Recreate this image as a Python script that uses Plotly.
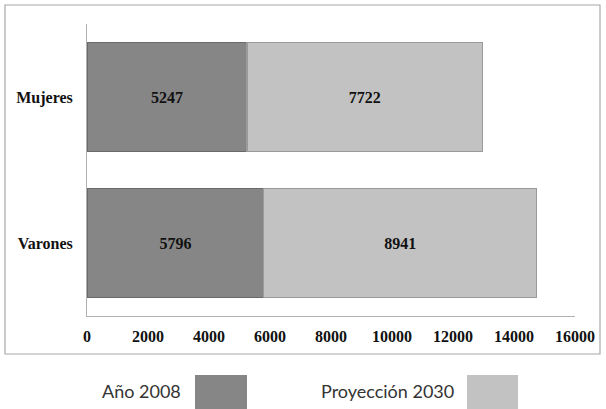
import plotly.graph_objects as go

# Población por sexo: valor 2008 y proyección 2030
categorias = ["Mujeres", "Varones"]
anio_2008 = [5247, 5796]
proyeccion_2030 = [7722, 8941]
ticks_x = [0, 2000, 4000, 6000, 8000, 10000, 12000, 14000, 16000]

serie_nombres = ["Año 2008", "Proyección 2030"]
colores = ["#868686", "#c2c2c2"]
bordes = ["#6a6a6a", "#9a9a9a"]

W, H = 606, 409
L, R, T, B = 87, 31, 24, 93
pw, ph = W - L - R, H - T - B

def px_x(p):
    return (p - L) / pw

def px_y(p):
    return 1 - (p - T) / ph

serif = dict(family="Liberation Serif", size=16, color="#111111")

fig = go.Figure()
for vals, nombre, col, brd in zip([anio_2008, proyeccion_2030], serie_nombres, colores, bordes):
    fig.add_trace(go.Bar(
        y=categorias, x=vals, orientation="h", name=nombre,
        marker=dict(color=col, line=dict(color=brd, width=1.2)),
        texttemplate="<b>%{x}</b>", textposition="inside",
        insidetextanchor="middle", textfont=serif,
        showlegend=False,
    ))

shapes = [
    # marco exterior del gráfico
    dict(type="rect", xref="paper", yref="paper",
         x0=px_x(5), x1=px_x(600), y0=px_y(354), y1=px_y(5),
         line=dict(color="#a8a8a8", width=1.2), fillcolor="rgba(0,0,0,0)", layer="below"),
]
annotations = []

# leyenda dibujada bajo el marco
leyenda = [("Año 2008", 183, 195, 247), ("Proyección 2030", 456, 467, 518)]
for (txt, tx_end, sq0, sq1), col in zip(leyenda, colores):
    shapes.append(dict(type="rect", xref="paper", yref="paper",
                       x0=px_x(sq0), x1=px_x(sq1), y0=px_y(409), y1=px_y(375),
                       line=dict(width=0), fillcolor=col))
    annotations.append(dict(text=txt, xref="paper", yref="paper",
                            x=px_x(tx_end), y=px_y(391), xanchor="right", yanchor="middle",
                            showarrow=False,
                            font=dict(family="Lato", size=18, color="#333333")))

fig.update_layout(
    width=W, height=H,
    margin=dict(l=L, r=R, t=T, b=B),
    paper_bgcolor="white", plot_bgcolor="white",
    barmode="stack", bargap=0.25,
    uniformtext=dict(mode="show", minsize=10),
    shapes=shapes, annotations=annotations,
    xaxis=dict(range=[0, 16000], tickvals=ticks_x,
               ticktext=[f"<b>{t}</b>" for t in ticks_x],
               showgrid=False, zeroline=False, showline=True, linecolor="#b0b0b0",
               linewidth=1, ticks="", ticklabelstandoff=6, tickfont=serif),
    yaxis=dict(autorange="reversed", tickvals=categorias,
               ticktext=[f"<b>{c}</b>" for c in categorias],
               showgrid=False, zeroline=False, showline=True,
               linecolor="#b0b0b0", linewidth=1, ticks="", ticklabelstandoff=10,
               tickfont=serif),
)

fig.write_html("out.html")
